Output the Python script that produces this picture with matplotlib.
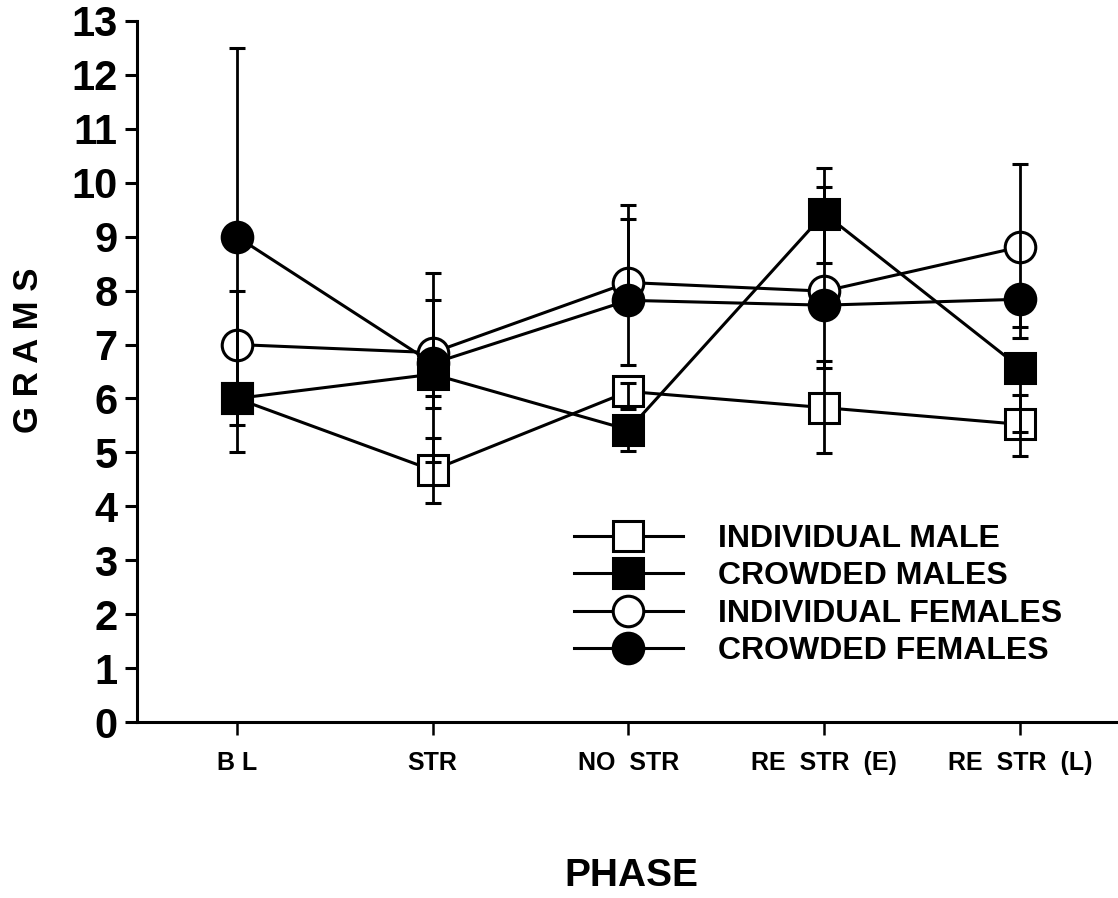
import matplotlib.pyplot as plt
from matplotlib.lines import Line2D

plt.rcParams['font.family'] = ['Liberation Sans', 'DejaVu Sans']
plt.rcParams['font.weight'] = 'bold'

# Mean weight (grams) per phase for each group
phases = ['B L', 'STR', 'NO  STR', 'RE  STR  (E)', 'RE  STR  (L)']
ind_male = [6.0, 4.67, 6.13, 5.83, 5.52]
crowd_male = [6.0, 6.45, 5.42, 9.43, 6.57]
ind_female = [7.0, 6.85, 8.15, 7.99, 8.81]
crowd_female = [9.0, 6.65, 7.82, 7.73, 7.84]

# Lower / upper error for each group
ind_male_lo = [1.0, 0.6, 0.32, 0.85, 0.59]
ind_male_hi = [0.2, 0.6, 0.15, 0.86, 0.55]
crowd_male_lo = [0.2, 0.62, 0.4, 0.91, 1.2]
crowd_male_hi = [0.2, 0.2, 0.2, 0.85, 0.2]
ind_female_lo = [1.0, 0.81, 1.53, 0.39, 1.49]
ind_female_hi = [1.0, 1.47, 1.43, 1.93, 1.53]
crowd_female_lo = [3.5, 1.82, 0.2, 1.16, 0.71]
crowd_female_hi = [3.5, 1.17, 1.5, 0.25, 0.2]

labels = ['INDIVIDUAL MALE', 'CROWDED MALES', 'INDIVIDUAL FEMALES', 'CROWDED FEMALES']

fig = plt.figure(figsize=(11.18, 8.98), dpi=100)
ax = fig.add_axes([137 / 1118, 1 - 722 / 898, 1 - 137 / 1118, (722 - 21) / 898])

x = list(range(len(phases)))
ms = 22
lw = 2.2

# drawn in this order so overlapping markers stack the same way
series = [
    (ind_male, ind_male_lo, ind_male_hi, 's', 'white'),
    (ind_female, ind_female_lo, ind_female_hi, 'o', 'white'),
    (crowd_female, crowd_female_lo, crowd_female_hi, 'o', 'black'),
    (crowd_male, crowd_male_lo, crowd_male_hi, 's', 'black'),
]
for vals, lo, hi, mk, fc in series:
    ax.plot(x, vals, color='black', lw=lw, marker=mk, ms=ms,
            mfc=fc, mec='black', mew=2.2, zorder=2)
    ax.errorbar(x, vals, yerr=[lo, hi], fmt='none', ecolor='black',
                elinewidth=2.0, capsize=5.5, capthick=2.2, zorder=3)

ax.set_xlim(-0.51, 4.5)
ax.set_ylim(0, 13)
ax.set_yticks(range(0, 14))
ax.set_xticks(x)
ax.set_xticklabels(phases, fontsize=18, fontweight='bold')
ax.tick_params(axis='y', labelsize=30, width=2.2, length=9, pad=5)
ax.tick_params(axis='x', width=1.8, length=9, pad=12)
for t in ax.get_yticklabels():
    t.set_fontweight('bold')

ax.spines['top'].set_visible(False)
ax.spines['right'].set_visible(False)
ax.spines['left'].set_linewidth(2.2)
ax.spines['bottom'].set_linewidth(2.2)

fig.text(28 / 1118, 1 - 350 / 898, 'G R A M S', rotation=90, fontsize=25,
         fontweight='bold', ha='center', va='center')
fig.text(631 / 1118, 1 - 876 / 898, 'PHASE', fontsize=28,
         fontweight='bold', ha='center', va='center')

handles = [
    Line2D([], [], color='black', lw=lw, marker='s', ms=ms, mfc='white', mec='black', mew=2.2),
    Line2D([], [], color='black', lw=lw, marker='s', ms=ms, mfc='black', mec='black', mew=2.2),
    Line2D([], [], color='black', lw=lw, marker='o', ms=ms, mfc='white', mec='black', mew=2.2),
    Line2D([], [], color='black', lw=lw, marker='o', ms=ms, mfc='black', mec='black', mew=2.2),
]
leg = ax.legend(handles, labels, loc='upper left',
                bbox_to_anchor=(574 / 1118, 1 - 524 / 898),
                bbox_transform=fig.transFigure, frameon=False,
                prop={'size': 23, 'weight': 'bold'},
                handlelength=3.4, handletextpad=1.1, labelspacing=0.23,
                borderpad=0, borderaxespad=0)

fig.savefig('out.png', dpi=100)
